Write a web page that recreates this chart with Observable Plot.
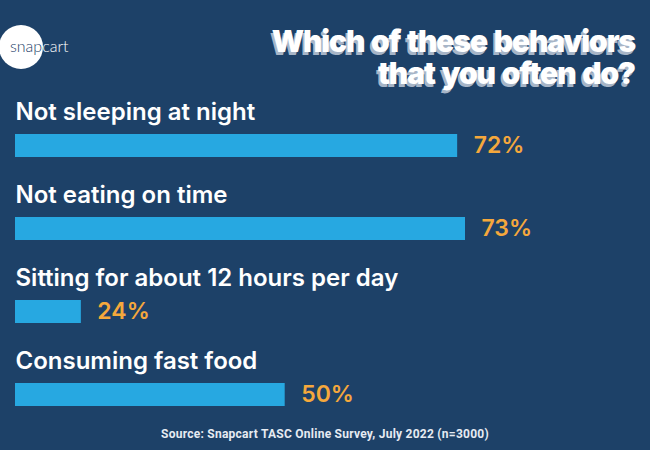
<!DOCTYPE html>
<html>
<head>
<meta charset="utf-8">
<script src="https://cdn.jsdelivr.net/npm/d3@7"></script>
<script src="https://cdn.jsdelivr.net/npm/@observablehq/plot@0.6"></script>
<style>
  html, body { margin: 0; padding: 0; background: #1d4168; }
  #wrap { position: relative; width: 650px; height: 450px; background: #1d4168; overflow: hidden; font-family: Inter, "Noto Sans", sans-serif; }
  #logo { position: absolute; left: 0; top: 0; }
  .title { position: absolute; right: 15px; text-align: right; color: #fff; font-family: Inter, sans-serif; font-weight: 900; font-size: 30px; line-height: 30px; letter-spacing: -1.15px; word-spacing: 2px; text-shadow: -2px 3px 0 #a7b5c7; white-space: nowrap; }
  #title1 { top: 26px; }
  #title2 { top: 58px; }
  #chart { position: absolute; left: 0; top: 95px; }
  #source { position: absolute; left: 0; width: 650px; top: 427px; text-align: center; color: #e6ebf2; font-family: Roboto, sans-serif; font-weight: 700; font-size: 12px; letter-spacing: 0.25px; }
</style>
</head>
<body>
<div id="wrap">
  <svg id="logo" width="100" height="90">
    <defs><clipPath id="cc"><circle cx="21" cy="47" r="22"></circle></clipPath></defs>
    <circle cx="21" cy="47" r="22" fill="#ffffff"></circle>
    <text x="10" y="52" font-family="Lato, sans-serif" font-weight="300" font-size="16" fill="#ffffff">snapcart</text>
    <text x="10" y="52" font-family="Lato, sans-serif" font-weight="300" font-size="16" fill="#1d4168" clip-path="url(#cc)">snapcart</text>
  </svg>
  <div class="title" id="title1">Which of these behaviors</div>
  <div class="title" id="title2">that you often do?</div>
  <div id="chart"></div>
  <div id="source">Source: Snapcart TASC Online Survey, July 2022 (n=3000)</div>
</div>
<script>
const categories = ["Not sleeping at night", "Not eating on time", "Sitting for about 12 hours per day", "Consuming fast food"];
const values = [72, 73, 24, 50];
const valueLabels = ["72%", "73%", "24%", "50%"];

const data = categories.map((c, i) => ({category: c, value: values[i], label: valueLabels[i]}));

const chart = Plot.plot({
  width: 650,
  height: 320,
  margin: 0,
  style: {background: "transparent"},
  x: {domain: [15.6, 73], range: [15, 465], clamp: true, axis: null},
  y: {domain: categories, range: [39, 311], paddingInner: 0.7229, paddingOuter: 0, axis: null},
  marks: [
    Plot.barX(data, {x: "value", y: "category", fill: "#27a8e1"}),
    Plot.text(data, {
      y: "category", text: "category", frameAnchor: "left", dx: 15, dy: -26,
      lineAnchor: "bottom", textAnchor: "start", fill: "#ffffff",
      fontSize: 24, fontWeight: 600, fontFamily: "Inter, sans-serif",
      letterSpacing: "0.8px"
    }),
    Plot.text(data, {
      x: "value", y: "category", text: "label", dx: 16,
      textAnchor: "start", lineAnchor: "middle", fill: "#f5a83c",
      fontSize: 23, fontWeight: 600, fontFamily: "Inter, sans-serif"
    })
  ]
});
document.getElementById("chart").appendChild(chart);
</script>
</body>
</html>
